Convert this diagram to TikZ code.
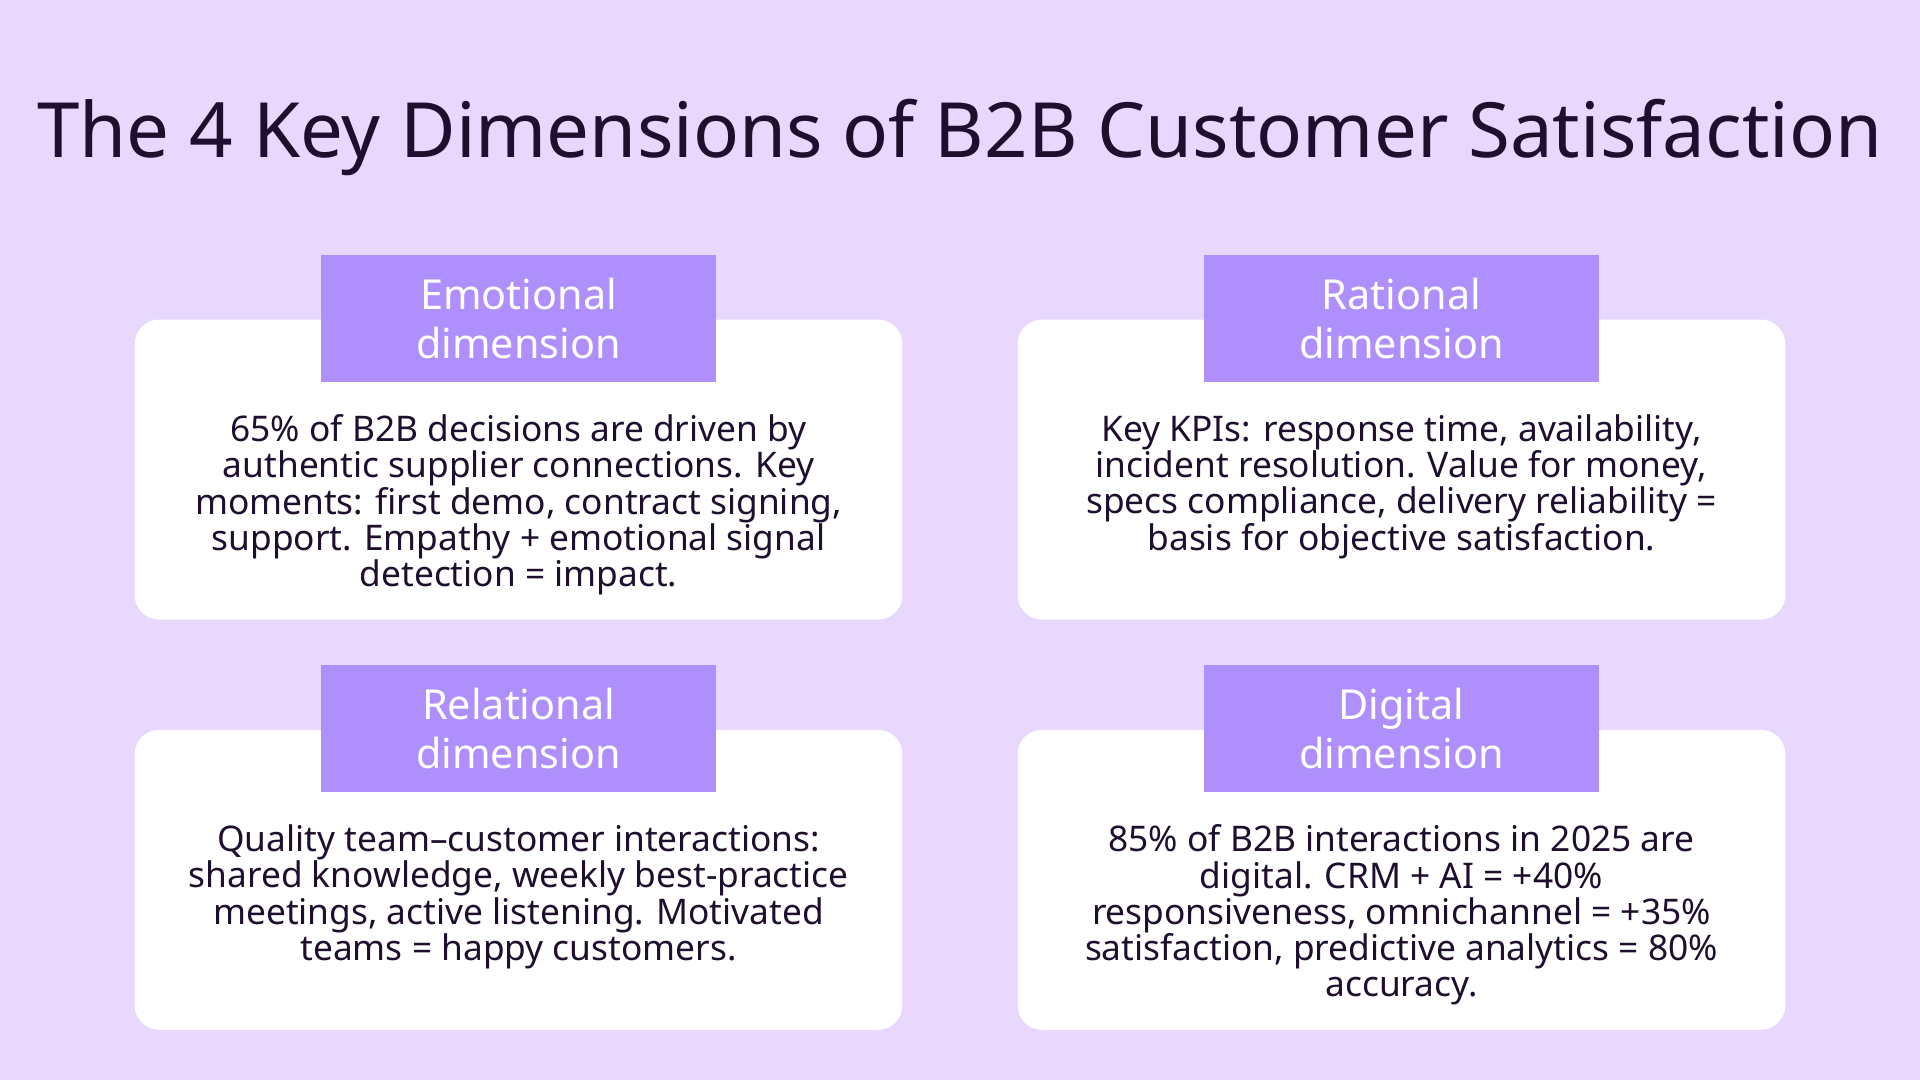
\documentclass[tikz,border=0pt]{standalone}
\usepackage{fontspec}
\setmainfont{Noto Sans}
\definecolor{bg}{HTML}{E9D8FD}
\definecolor{hd}{HTML}{AE8FFB}
\definecolor{ink}{HTML}{1E0F2E}
\begin{document}
\begin{tikzpicture}[x=0.01cm,y=-0.01cm,
 card/.style={fill=white,draw=none,rounded corners=0.2cm},
 head/.style={fill=hd,draw=none,minimum width=3.23cm,minimum height=1.04cm,text=white,align=center,inner sep=0pt,font=\fontsize{9.6pt}{11.3pt}\selectfont},
 body/.style={anchor=north,align=center,text=ink,font=\fontsize{8.2pt}{8.4pt}\selectfont,inner sep=0pt}]
\useasboundingbox (0,0) rectangle (1568,882);
\fill[bg] (0,0) rectangle (1568,882);
\node[text=ink,font=\fontsize{17.7pt}{22pt}\selectfont] (title) at (784,112) {The 4 Key Dimensions of B2B Customer Satisfaction};
\fill[card] (110,261) rectangle (737,506);
\fill[card] (831,261) rectangle (1458,506);
\fill[card] (110,596) rectangle (737,841);
\fill[card] (831,596) rectangle (1458,841);
\node[head] (h1) at (423.5,260) {Emotional\\dimension};
\node[head] (h2) at (1144.5,260) {Rational\\dimension};
\node[head] (h3) at (423.5,595) {Relational\\dimension};
\node[head] (h4) at (1144.5,595) {Digital\\dimension};
\node[body] (b1) at (423.5,338) {65\% of B2B decisions are driven by\\authentic supplier connections. Key\\moments: first demo, contract signing,\\support. Empathy + emotional signal\\detection = impact.};
\node[body] (b2) at (1144.5,338) {Key KPIs: response time, availability,\\incident resolution. Value for money,\\specs compliance, delivery reliability =\\basis for objective satisfaction.};
\node[body] (b3) at (423.5,673) {Quality team–customer interactions:\\shared knowledge, weekly best-practice\\meetings, active listening. Motivated\\teams = happy customers.};
\node[body] (b4) at (1144.5,673) {85\% of B2B interactions in 2025 are\\digital. CRM + AI = +40\%\\responsiveness, omnichannel = +35\%\\satisfaction, predictive analytics = 80\%\\accuracy.};
\end{tikzpicture}
\end{document}
